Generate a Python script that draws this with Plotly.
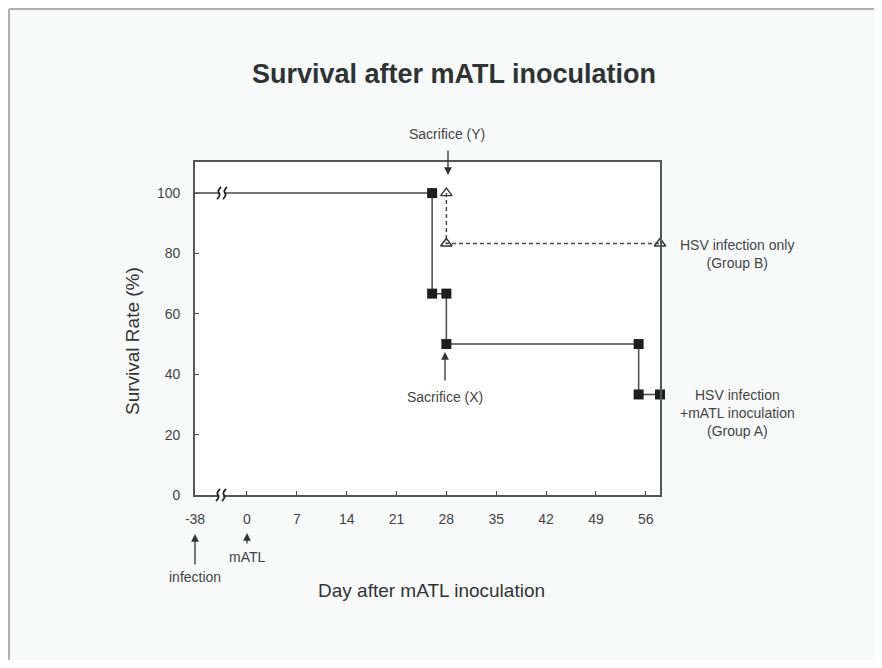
import plotly.graph_objects as go

# ---- data ----
tick_days = [-38, 0, 7, 14, 21, 28, 35, 42, 49, 56]
tick_labels = ["-38", "0", "7", "14", "21", "28", "35", "42", "49", "56"]
y_ticks = [0, 20, 40, 60, 80, 100]

group_a_days = [-38, 26, 26, 28, 28, 55, 55, 58]
group_a_surv = [100, 100, 66.7, 66.7, 50, 50, 33.3, 33.3]
group_b_days = [28, 28, 58]
group_b_surv = [100, 83.3, 83.3]

# broken axis: day -38 drawn just left of day 0
BREAK_POS = -7.3


def xpos(d):
    return BREAK_POS if d < 0 else d


OFF = 8  # page body margin
W, H = 882 - 2 * OFF, 668 - 2 * OFF
L, R, T, B = 195, 660, 162, 495   # plot area in window pixels
X0, X1 = BREAK_POS, 58
Y0, Y1 = 0, 110.3


def px(p):
    return (p - L) / (R - L)


def py(p):
    return (B - p) / (B - T)


LINE = "#4a4a4a"
TXT = "#444444"
FONT = "Liberation Sans, Arial, sans-serif"

fig = go.Figure()

fig.add_trace(go.Scatter(
    x=[xpos(d) for d in group_a_days], y=group_a_surv, mode="lines",
    line=dict(color=LINE, width=1.5), hoverinfo="skip", cliponaxis=False))
fig.add_trace(go.Scatter(
    x=[xpos(d) for d in group_a_days[1:]], y=group_a_surv[1:], mode="markers",
    marker=dict(symbol="square", size=10, color="#1e1e1e"), cliponaxis=False))
fig.add_trace(go.Scatter(
    x=[xpos(d) for d in group_b_days], y=group_b_surv, mode="lines+markers",
    line=dict(color=LINE, width=1.5, dash="4px,3px"),
    marker=dict(symbol="triangle-up-open", size=10, color="#333333", line=dict(width=1.4)),
    cliponaxis=False))

ann = []


def text(x, y, s, size=14, color=TXT, **kw):
    ann.append(dict(x=px(x), y=py(y), xref="paper", yref="paper", text=s, showarrow=False,
                    xanchor="center", yanchor="middle",
                    font=dict(size=size, color=color, family=FONT), **kw))


def arrow(x, y_head, y_tail):
    ann.append(dict(x=px(x), y=py(y_head), xref="paper", yref="paper",
                    ax=0, ay=y_tail - y_head,
                    text="", showarrow=True, arrowhead=2, arrowsize=1.2, arrowwidth=1.3,
                    arrowcolor="#333333"))


text(447, 134, "Sacrifice (Y)")
arrow(448, 175, 149)
text(445, 397, "Sacrifice (X)")
arrow(445, 352, 382)
text(737, 254, "HSV infection only<br>(Group B)")
text(737, 413, "HSV infection<br>+mATL inoculation<br>(Group A)")
text(195, 577, "infection")
arrow(195, 534, 566)
text(247, 557, "mATL")
arrow(247, 533, 545)
text(431, 590, "Day after mATL inoculation", size=19, color="#333333")
text(132, 341, "Survival Rate (%)", size=19, color="#333333", textangle=-90)

shapes = []
# axis-break marks
for bx, by in [(222, 193), (221, 495)]:
    shapes.append(dict(type="rect", xref="paper", yref="paper",
                       x0=px(bx - 2), x1=px(bx + 2), y0=py(by + 2), y1=py(by - 2),
                       fillcolor="#ffffff", line=dict(width=0), layer="above"))
    for dx in (-3, 3):
        shapes.append(dict(type="path", xref="paper", yref="paper",
                           path=f"M {px(bx+dx-2)},{py(by+6)} Q {px(bx+dx+2)},{py(by+2)} {px(bx+dx)},{py(by)} "
                                f"T {px(bx+dx+2)},{py(by-6)}",
                           line=dict(color="#222222", width=1.8), layer="above"))
# page frame (left and top edges)
shapes.append(dict(type="line", xref="paper", yref="paper", x0=px(9), x1=px(9), y0=py(9), y1=py(660),
                   line=dict(color="#b0b0b0", width=2)))
shapes.append(dict(type="line", xref="paper", yref="paper", x0=px(9), x1=px(874), y0=py(9), y1=py(9),
                   line=dict(color="#b0b0b0", width=2)))

fig.update_layout(
    width=W, height=H,
    margin=dict(l=L - OFF, r=W - (R - OFF), t=T - OFF, b=H - (B - OFF)),
    paper_bgcolor="#f8fafa", plot_bgcolor="#ffffff",
    showlegend=False,
    title=dict(text="<b>Survival after mATL inoculation</b>", x=(454 - OFF) / W, xanchor="center",
               y=1 - (74 - OFF) / H, yanchor="middle", font=dict(size=27, color="#2e3333", family=FONT)),
    annotations=ann, shapes=shapes,
    font=dict(family=FONT, color=TXT),
)
fig.update_xaxes(range=[X0, X1], tickvals=[xpos(d) for d in tick_days], ticktext=tick_labels,
                 ticks="inside", ticklen=4, tickcolor=LINE, showline=True, linecolor="#555555",
                 linewidth=1.6, mirror=True, showgrid=False, zeroline=False,
                 tickfont=dict(size=14, color=TXT), ticklabelstandoff=10)
fig.update_yaxes(range=[Y0, Y1], tickvals=y_ticks, ticks="inside", ticklen=4, tickcolor=LINE,
                 showline=True, linecolor="#555555", linewidth=1.6, mirror=True, showgrid=False,
                 zeroline=False, tickfont=dict(size=14, color=TXT), ticklabelstandoff=10)

fig.write_html("out.html")
